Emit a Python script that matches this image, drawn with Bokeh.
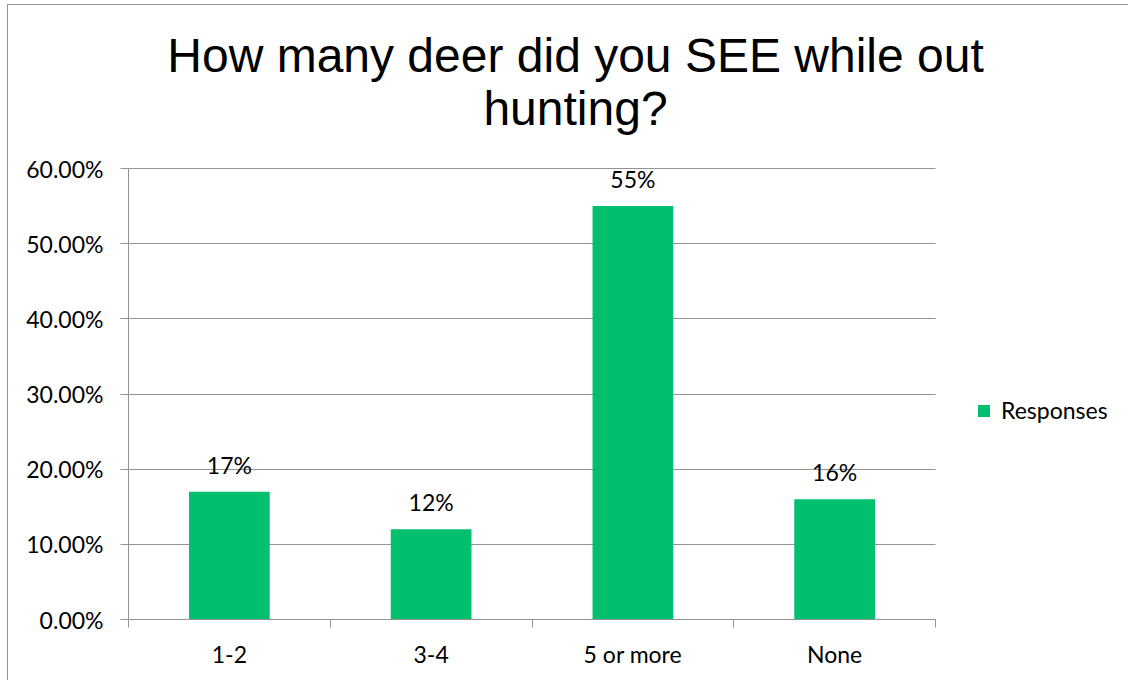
from bokeh.plotting import figure
from bokeh.models import (Range1d, FixedTicker, NumeralTickFormatter, LabelSet, Label,
                          ColumnDataSource, Legend, LegendItem)
from bokeh.core.properties import value
from bokeh.embed import file_html
from bokeh.resources import INLINE

# ---- data ----
categories = ["1-2", "3-4", "5 or more", "None"]
responses = [0.17, 0.12, 0.55, 0.16]
y_ticks = [0.0, 0.1, 0.2, 0.3, 0.4, 0.5, 0.6]
title_lines = ["How many deer did you SEE while out", "hunting?"]
series_name = "Responses"

# ---- styling / layout ----
GREEN = "#00BF6F"
GRAY = "#939393"
TICK_FONT = "Lato"
TICK_SIZE = "23px"
FRAME_W, FRAME_H = 1000, 614      # drawing frame (covers title and legend areas)
PLOT_W, PLOT_H = 807, 451         # visible plot area in pixels

n = len(categories)
x_pos = [i + 0.5 for i in range(n)]
boundaries = list(range(n + 1))
src = ColumnDataSource(dict(
    x=x_pos, top=responses, cat=categories,
    lbl=[f"{round(v * 100)}%" for v in responses],
))

y_max = y_ticks[-1]
p = figure(frame_width=FRAME_W, frame_height=FRAME_H, output_backend="svg",
           toolbar_location=None, tools="",
           x_range=Range1d(0, n * FRAME_W / PLOT_W),
           y_range=Range1d(0, y_max * FRAME_H / PLOT_H),
           min_border_left=120, min_border_top=0, min_border_bottom=61,
           min_border_right=0)
p.styles = {"border-left": f"1px solid {GRAY}", "border-top": f"1px solid {GRAY}",
            "margin-left": "7px", "margin-top": "4px"}
p.outline_line_color = None
p.background_fill_color = "white"
p.border_fill_color = "white"

r = p.vbar(x="x", top="top", width=0.4, source=src, fill_color=GREEN, line_color=None)

# y axis
ya = p.yaxis[0]
ya.ticker = FixedTicker(ticks=y_ticks)
ya.bounds = (0, y_max)
ya.formatter = NumeralTickFormatter(format="0.00%")
ya.axis_line_color = GRAY
ya.major_tick_line_color = GRAY
ya.major_tick_out = 8
ya.major_tick_in = 0
ya.minor_tick_line_color = None
ya.major_label_standoff = 17
ya.major_label_text_font = TICK_FONT
ya.major_label_text_font_size = TICK_SIZE
ya.major_label_text_color = "black"

# x axis
xa = p.xaxis[0]
xa.ticker = FixedTicker(ticks=x_pos, minor_ticks=boundaries)
xa.bounds = (0, n)
xa.major_label_overrides = {x: c for x, c in zip(x_pos, categories)}
xa.axis_line_color = GRAY
xa.major_tick_line_color = None
xa.major_tick_out = 0
xa.major_tick_in = 0
xa.minor_tick_line_color = GRAY
xa.minor_tick_out = 8
xa.minor_tick_in = 0
xa.major_label_standoff = 12
xa.major_label_text_font = TICK_FONT
xa.major_label_text_font_size = TICK_SIZE
xa.major_label_text_color = "black"

p.xgrid.grid_line_color = None
p.ygrid.grid_line_color = GRAY
p.ygrid.cross_bounds = (0, n)

# data labels
labels = LabelSet(x="x", y="top", text="lbl", source=src, text_align="center",
                  text_baseline="alphabetic", y_offset=18,
                  text_font=value(TICK_FONT), text_font_size=value(TICK_SIZE),
                  text_color="black")
p.add_layout(labels)

# title (two lines, centred over the chart area)
for i, line in enumerate(title_lines):
    p.add_layout(Label(x=447, y=564 - 53 * i, x_units="screen", y_units="screen",
                       text=line, text_align="center", text_baseline="alphabetic",
                       text_font="Liberation Sans", text_font_size="48px",
                       text_color="black"))

legend = Legend(items=[LegendItem(label=series_name, renderers=[r])],
                location=(848, 195), glyph_width=15, glyph_height=15,
                label_text_font=TICK_FONT, label_text_font_size=TICK_SIZE,
                label_text_color="black", border_line_color=None,
                background_fill_alpha=0, label_standoff=10, padding=10, margin=0,
                spacing=0)
p.add_layout(legend)

open("out.html", "w").write(file_html(p, INLINE))
